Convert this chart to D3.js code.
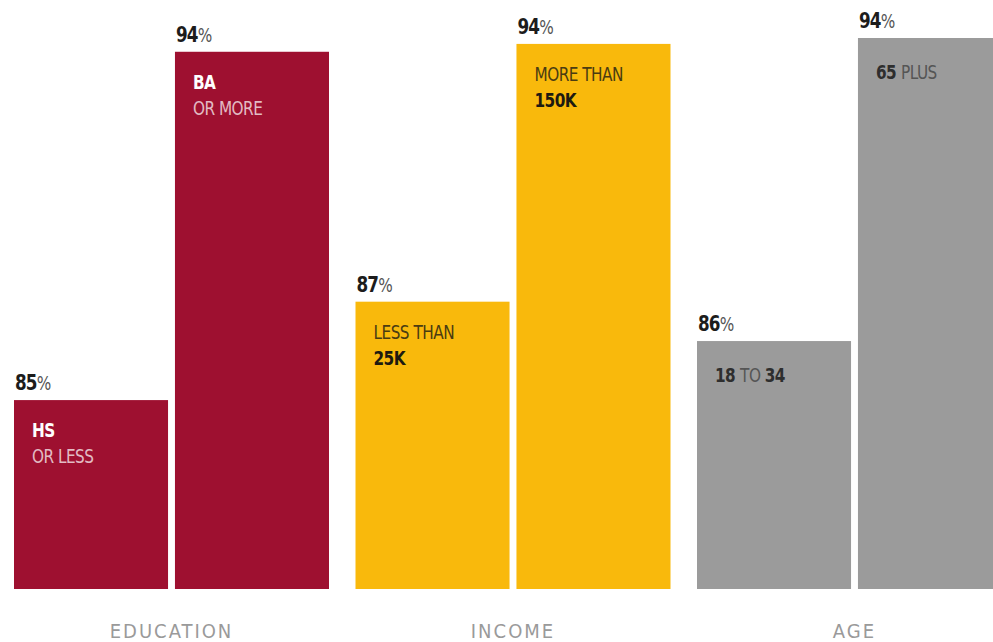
<!DOCTYPE html>
<html>
<head>
<meta charset="utf-8">
<script src="https://cdn.jsdelivr.net/npm/d3@7"></script>
<style>
  html, body { margin: 0; padding: 0; background: #fff; }
  svg { display: block; font-family: "DejaVu Sans Condensed", "DejaVu Sans", sans-serif; font-stretch: condensed; }
</style>
</head>
<body>
<svg id="chart" width="993" height="642"></svg>
<script>
// groups and their bars
const groups = ['EDUCATION', 'INCOME', 'AGE'];
const groupColors = ['#9e1030', '#f9b90c', '#9b9b9b'];
const barKeys = ['low', 'high'];
// estimated share (%) per bar
const values = [
  [85.0, 93.85],
  [87.5, 94.05],
  [86.5, 94.2]
];
const pctLabels = [
  ['85', '94'],
  ['87', '94'],
  ['86', '94']
];
// bar captions: lines of [text, bold?]
const captions = [
  [ [[['HS', true]], [['OR LESS', false]]], [[['BA', true]], [['OR MORE', false]]] ],
  [ [[['LESS THAN', false]], [['25K', true]]], [[['MORE THAN', false]], [['150K', true]]] ],
  [ [[['18 ', true], ['TO ', false], ['34', true]]], [[['65 ', true], ['PLUS', false]]] ]
];
const captionInk = [
  { bold: '#ffffff', light: 'rgba(255,255,255,0.72)' },
  { bold: '#1e1a10', light: '#4a3c12' },
  { bold: '#2e2e2e', light: '#555555' }
];

const svg = d3.select('#chart');
const baseY = 589;
const squeeze = 0.85; // the original face is narrower than DejaVu Condensed

const x0 = d3.scaleBand()
  .domain(groups)
  .range([14, 1012])
  .paddingInner(0.0776)
  .paddingOuter(0);

const x1 = d3.scaleBand()
  .domain(barKeys)
  .range([0, x0.bandwidth()])
  .paddingInner(0.043);

const y = d3.scaleLinear()
  .domain([80.2, 94.2])
  .range([baseY, 38]);

const g = svg.selectAll('g.group')
  .data(groups)
  .enter()
  .append('g')
  .attr('class', 'group')
  .attr('transform', d => 'translate(' + x0(d) + ',0)');

g.each(function(grp, gi) {
  const sel = d3.select(this);
  barKeys.forEach(function(k, bi) {
    const v = values[gi][bi];
    const bx = x1(k);
    const top = y(v);

    sel.append('rect')
      .attr('x', bx)
      .attr('y', top)
      .attr('width', x1.bandwidth())
      .attr('height', baseY - top)
      .attr('fill', groupColors[gi]);

    // percentage above the bar
    const pt = sel.append('text')
      .attr('transform', 'translate(' + (bx + 1) + ',' + (top - 10) + ') scale(' + squeeze + ',1)')
      .attr('font-size', 22)
      .attr('letter-spacing', -1);
    pt.append('tspan').attr('font-weight', 'bold').attr('fill', '#1c1c1c').text(pctLabels[gi][bi]);
    pt.append('tspan').attr('fill', '#555').attr('font-size', 20).text('%');

    // caption inside the bar
    const lines = captions[gi][bi];
    const firstY = top + (lines.length > 1 ? 37 : 41);
    lines.forEach(function(line, li) {
      const t = sel.append('text')
        .attr('transform', 'translate(' + (bx + 18) + ',' + (firstY + li * 26) + ') scale(' + squeeze + ',1)')
        .attr('font-size', 20)
        .attr('letter-spacing', -0.6);
      line.forEach(function(seg) {
        t.append('tspan')
          .attr('font-weight', seg[1] ? 'bold' : 'normal')
          .attr('fill', seg[1] ? captionInk[gi].bold : captionInk[gi].light)
          .text(seg[0]);
      });
    });
  });
});

// group names under the bars
svg.selectAll('text.grp')
  .data(groups)
  .enter()
  .append('text')
  .attr('class', 'grp')
  .attr('x', d => x0(d) + x0.bandwidth() / 2)
  .attr('y', 638)
  .attr('text-anchor', 'middle')
  .attr('font-size', 20)
  .attr('letter-spacing', 2)
  .attr('fill', '#9a9a9a')
  .text(d => d);
</script>
</body>
</html>
